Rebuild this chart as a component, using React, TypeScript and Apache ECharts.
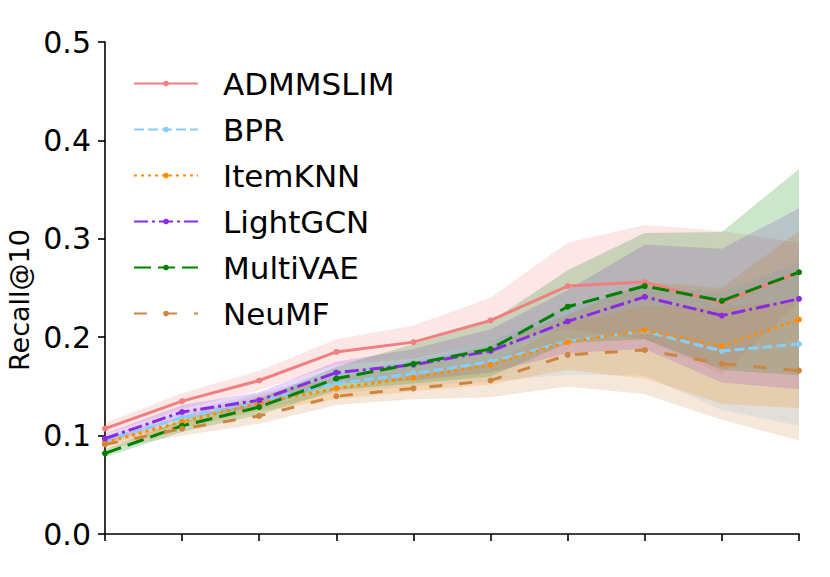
import React, { useEffect, useRef } from "react";
import * as echarts from "echarts";

const categories = ["1", "2", "3", "4", "5", "6", "7", "8", "9", "10"];
const yTicks = [0, 0.1, 0.2, 0.3, 0.4, 0.5];

const admmslimMean = [0.107, 0.135, 0.156, 0.185, 0.195, 0.217, 0.252, 0.256, 0.235, 0.266];
const admmslimLow = [0.101, 0.127, 0.146, 0.172, 0.178, 0.194, 0.208, 0.198, 0.162, 0.236];
const admmslimHigh = [0.113, 0.143, 0.166, 0.198, 0.212, 0.24, 0.296, 0.314, 0.308, 0.296];

const bprMean = [0.095, 0.118, 0.135, 0.153, 0.163, 0.175, 0.196, 0.206, 0.186, 0.193];
const bprLow = [0.091, 0.112, 0.127, 0.143, 0.15, 0.155, 0.162, 0.161, 0.126, 0.11];
const bprHigh = [0.099, 0.124, 0.143, 0.163, 0.176, 0.195, 0.23, 0.251, 0.246, 0.276];

const itemknnMean = [0.093, 0.114, 0.133, 0.148, 0.159, 0.172, 0.195, 0.207, 0.191, 0.218];
const itemknnLow = [0.089, 0.108, 0.125, 0.137, 0.145, 0.152, 0.167, 0.158, 0.132, 0.128];
const itemknnHigh = [0.097, 0.12, 0.141, 0.159, 0.173, 0.192, 0.223, 0.256, 0.25, 0.308];

const lightgcnMean = [0.097, 0.124, 0.136, 0.164, 0.172, 0.186, 0.216, 0.241, 0.222, 0.239];
const lightgcnLow = [0.092, 0.117, 0.128, 0.153, 0.156, 0.164, 0.184, 0.188, 0.154, 0.147];
const lightgcnHigh = [0.102, 0.131, 0.144, 0.175, 0.188, 0.208, 0.248, 0.294, 0.29, 0.331];

const multivaeMean = [0.082, 0.11, 0.129, 0.158, 0.173, 0.188, 0.231, 0.252, 0.237, 0.266];
const multivaeLow = [0.078, 0.104, 0.121, 0.146, 0.153, 0.16, 0.194, 0.198, 0.167, 0.161];
const multivaeHigh = [0.086, 0.116, 0.137, 0.17, 0.193, 0.216, 0.268, 0.306, 0.307, 0.371];

const neumfMean = [0.091, 0.107, 0.12, 0.14, 0.148, 0.156, 0.182, 0.187, 0.173, 0.166];
const neumfLow = [0.086, 0.1, 0.112, 0.131, 0.137, 0.139, 0.15, 0.142, 0.116, 0.095];
const neumfHigh = [0.096, 0.114, 0.128, 0.149, 0.159, 0.173, 0.214, 0.232, 0.23, 0.237];

const methods = [
  { name: "ADMMSLIM", mean: admmslimMean, low: admmslimLow, high: admmslimHigh, color: "#F08080", rgb: "240,128,128", dash: "solid" as any },
  { name: "BPR", mean: bprMean, low: bprLow, high: bprHigh, color: "#87CEFA", rgb: "135,206,250", dash: [10, 4] },
  { name: "ItemKNN", mean: itemknnMean, low: itemknnLow, high: itemknnHigh, color: "#FF8C00", rgb: "255,140,0", dash: [3, 4] },
  { name: "LightGCN", mean: lightgcnMean, low: lightgcnLow, high: lightgcnHigh, color: "#8A2BE2", rgb: "138,43,226", dash: [14, 4, 3, 4] },
  { name: "MultiVAE", mean: multivaeMean, low: multivaeLow, high: multivaeHigh, color: "#008000", rgb: "0,128,0", dash: [17, 7] },
  { name: "NeuMF", mean: neumfMean, low: neumfLow, high: neumfHigh, color: "#CD853F", rgb: "205,133,63", dash: [13, 17] },
];

const FONT = "DejaVu Sans";

export default function App() {
  const ref = useRef<HTMLDivElement>(null);
  useEffect(() => {
    if (!ref.current) return;
    const chart = echarts.init(ref.current, null, { renderer: "svg" });
    const series: any[] = [];
    methods.forEach((m, i) => {
      series.push({
        type: "line",
        name: m.name + "_low",
        stack: "band" + i,
        data: m.low,
        symbol: "none",
        lineStyle: { opacity: 0 },
        silent: true,
        z: 1,
      });
      series.push({
        type: "line",
        name: m.name + "_band",
        stack: "band" + i,
        data: m.high.map((h, k) => +(h - m.low[k]).toFixed(4)),
        symbol: "none",
        lineStyle: { opacity: 0 },
        areaStyle: { color: `rgba(${m.rgb},0.2)`, opacity: 1 },
        silent: true,
        z: 1,
      });
    });
    methods.forEach((m) => {
      series.push({
        type: "line",
        name: m.name,
        data: m.mean,
        symbol: "circle",
        symbolSize: 6,
        showSymbol: true,
        itemStyle: { color: m.color },
        lineStyle: { color: m.color, width: 3, type: m.dash },
        z: 3,
      });
    });
    chart.setOption({
      animation: false,
      backgroundColor: "#ffffff",
      textStyle: { fontFamily: FONT },
      grid: { left: 105, right: 31, top: 42, bottom: 43, containLabel: false },
      legend: {
        data: methods.map((m) => m.name),
        orient: "vertical",
        left: 133,
        top: 68,
        padding: 0,
        itemWidth: 64,
        itemHeight: 7,
        itemGap: 15,
        textStyle: { fontSize: 31, fontFamily: FONT, color: "#000", lineHeight: 31, padding: [0, 0, 0, 20] },
        selectedMode: false,
      },
      xAxis: {
        type: "category",
        data: categories,
        boundaryGap: false,
        axisLine: { lineStyle: { color: "#000", width: 1.6 } },
        axisTick: { show: true, length: 7, alignWithLabel: true, lineStyle: { color: "#000", width: 1.6 } },
        axisLabel: { show: false },
        splitLine: { show: false },
      },
      yAxis: {
        type: "value",
        min: 0,
        max: 0.5,
        interval: 0.1,
        axisLine: { show: true, lineStyle: { color: "#000", width: 1.6 } },
        axisTick: { show: true, length: 7, lineStyle: { color: "#000", width: 1.6 } },
        axisLabel: {
          fontSize: 30,
          fontFamily: FONT,
          color: "#000",
          margin: 14,
          formatter: (v: number) => (yTicks.some((t) => Math.abs(t - v) < 1e-9) ? v.toFixed(1) : ""),
        },
        splitLine: { show: false },
      },
      graphic: [
        {
          type: "text",
          x: 19,
          y: 300,
          rotation: Math.PI / 2,
          style: {
            text: "Recall@10",
            fontSize: 27,
            fontFamily: FONT,
            fill: "#000",
            align: "center",
            verticalAlign: "middle",
          },
        },
      ],
      series,
    });
    return () => chart.dispose();
  }, []);
  return (
    <div
      ref={ref}
      style={{ position: "fixed", left: 0, top: 0, width: 830, height: 577, background: "#fff" }}
    />
  );
}
